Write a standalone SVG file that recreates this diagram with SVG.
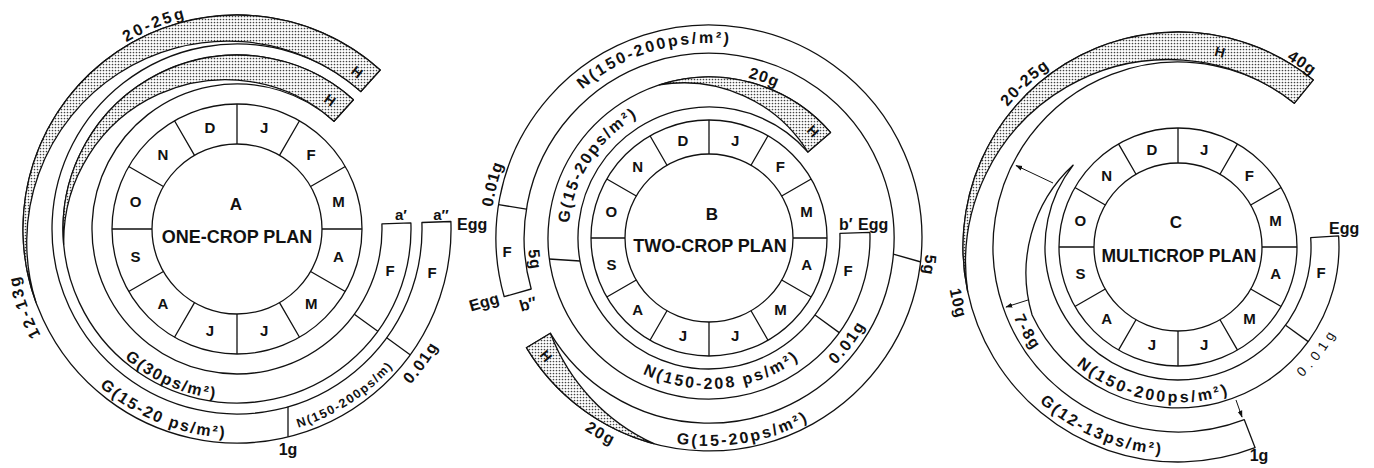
<svg xmlns="http://www.w3.org/2000/svg" width="1374" height="468" viewBox="0 0 1374 468">
<style>
.ln{fill:none;stroke:#111;stroke-width:1.3}
.band{fill:#fff;stroke:#111;stroke-width:1.3;stroke-linejoin:round}
.h{fill:url(#dots);stroke:#111;stroke-width:1.3;stroke-linejoin:round}
.t{font-family:"Liberation Sans",Arial,Helvetica,sans-serif;font-weight:bold;font-size:16px;fill:#111}
.m{font-size:15px;text-anchor:middle;dominant-baseline:central}
.c{text-anchor:middle}
.n{font-weight:normal}
.hh{font-size:14px;text-anchor:middle;dominant-baseline:central}
.s125{font-size:12.5px}
.s13{font-size:13.5px}
.s15{font-size:15px}
.s16{font-size:16px}
.s17{font-size:17px}
.s175{font-size:17.5px}
.s18{font-size:18px}
.ar{fill:none;stroke:#111;stroke-width:1;marker-end:url(#ah)}
</style>
<defs>
<pattern id="dots" width="3" height="3" patternUnits="userSpaceOnUse"><rect width="3" height="3" fill="#fff"/><circle cx="1.5" cy="1.5" r="0.85" fill="#444"/></pattern>
<marker id="ah" viewBox="0 0 10 10" refX="9" refY="5" markerWidth="7" markerHeight="7" orient="auto"><path d="M0,1.5L10,5L0,8.5z" fill="#111"/></marker>
<path id="tA1" d="M83.3,304A171,171 0 0 0 284.1,393.4"/>
<path id="tA2" d="M52.5,327.1A209,209 0 0 0 301.6,427.8"/>
<path id="tA3" d="M211.6,435.4A208,208 0 0 0 435.9,289.8"/>
<path id="tA4" d="M293.4,455.1A233,233 0 0 0 469.4,212.7"/>
<path id="tA5" d="M125.5,422.1A223,223 0 0 1 27.4,152.7"/>
<path id="tA6" d="M45.4,127.1A217,217 0 0 1 304.1,22.6"/>
<path id="tB1" d="M540.1,140.5A195,195 0 0 1 794.5,62.7"/>
<path id="tB2" d="M569.1,255.2A141,141 0 0 1 667.8,103.2"/>
<path id="tB3" d="M603.2,345.7A151,151 0 0 0 833.4,323.5"/>
<path id="tB4" d="M605,418.1A208,208 0 0 0 868.3,371.7"/>
<path id="tB5" d="M749.3,412.4A179,179 0 0 0 887.8,228.6"/>
<path id="tB6" d="M512.6,333.8A218.5,218.5 0 0 1 580.6,61.2"/>
<path id="tB7" d="M649.9,84A165,165 0 0 1 850.4,153"/>
<path id="tB8" d="M495.2,320.1A229,229 0 0 0 752.7,462.8"/>
<path id="tB9" d="M557.2,139.4A181,181 0 0 0 585.6,370.4"/>
<path id="tB10" d="M891,119.8A217,217 0 0 1 857,396.7"/>
<path id="tC1" d="M1050.6,336.2A155.5,155.5 0 0 0 1265,375.9"/>
<path id="tC2" d="M992.7,341.4A208,208 0 0 0 1238.8,445.9"/>
<path id="tC3" d="M1002.6,214.2A178.5,178.5 0 0 0 1115.2,414.1"/>
<path id="tC4" d="M968.5,146.2A232.5,232.5 0 0 0 1042.3,435.8"/>
<path id="tC5" d="M959.2,220.1A220.5,220.5 0 0 1 1166.5,26.8"/>
<path id="tC6" d="M1155.3,31.2A217,217 0 0 1 1386.6,187.2"/>
<path id="tC7" d="M1218.5,422.4A180,180 0 0 0 1357.8,237.6"/>
</defs>
<rect width="1374" height="468" fill="#fff"/>

<g id="planA">
<path class="band" d="M410.9,222.9A174,174 0 1 1 353.4,99.7L334,121.2A145,145 0 1 0 381.9,223.9Z"/>
<path class="h" d="M63.7,244.2A174,174 0 0 1 353.4,99.7L334,121.2A162,162 0 0 0 63.7,244.2Z"/>
<path class="band" d="M450.9,221.5A214,214 0 1 1 380.2,70L360.8,91.5A185,185 0 1 0 421.9,222.5Z"/>
<path class="h" d="M35.9,302.2A214,214 0 0 1 380.2,70L360.8,91.5A201,201 0 0 0 35.9,302.2Z"/>
<path class="ln" d="M354.3,314.2L377.8,331.3M386.7,337.7L410.1,354.8M288,406.8L288,436.8"/>
<circle class="ln" cx="237" cy="229" r="125"/>
<circle class="ln" cx="237" cy="229" r="85"/>
<path class="ln" d="M237,144L237,104M279.5,155.4L299.5,120.7M310.6,186.5L345.3,166.5M322,229L362,229M310.6,271.5L345.3,291.5M279.5,302.6L299.5,337.3M237,314L237,354M194.5,302.6L174.5,337.3M163.4,271.5L128.7,291.5M152,229L112,229M163.4,186.5L128.7,166.5M194.5,155.4L174.5,120.7"/>
<g class="t m">
<text x="264.2" y="127.6">J</text><text x="311.2" y="154.8">F</text><text x="338.4" y="201.8">M</text><text x="338.4" y="256.2">A</text><text x="311.2" y="303.2">M</text><text x="264.2" y="330.4">J</text><text x="209.8" y="330.4">J</text><text x="162.8" y="303.2">A</text><text x="135.6" y="256.2">S</text><text x="135.6" y="201.8">O</text><text x="162.8" y="154.8">N</text><text x="209.8" y="127.6">D</text>
</g>
<text class="t c s17" x="236" y="210">A</text>
<text class="t c s18" x="237" y="243">ONE-CROP PLAN</text>
<text class="t c s15" x="390" y="276">F</text>
<text class="t c s15" x="432" y="278">F</text>
<text class="t c s15" x="401" y="220">a′</text>
<text class="t c s15" x="441" y="220">a″</text>
<text class="t s16" x="457" y="230">Egg</text>
<text class="t c s16" x="288" y="455">1g</text>
<text class="t c" letter-spacing="1.8"><textPath href="#tA1" startOffset="50%">G(30ps/m²)</textPath></text>
<text class="t c" letter-spacing="2"><textPath href="#tA2" startOffset="50%">G(15-20 ps/m²)</textPath></text>
<text class="t c s125" letter-spacing="1.6"><textPath href="#tA3" startOffset="50%">N(150-200ps/m)</textPath></text>
<text class="t c" letter-spacing="1.5"><textPath href="#tA4" startOffset="50%">0.01g</textPath></text>
<text class="t c" letter-spacing="2.5"><textPath href="#tA5" startOffset="50%">12-13g</textPath></text>
<text class="t c" letter-spacing="2.5"><textPath href="#tA6" startOffset="50%">20-25g</textPath></text>
<text class="t hh" transform="translate(357,72) rotate(38)">H</text>
<text class="t hh" transform="translate(330,100) rotate(36)">H</text>
</g>

<g id="planB">
<path class="band" d="M869.9,232.4A161,161 0 1 1 830.5,132.4L807.9,152.1A131,131 0 1 0 839.9,233.4Z"/>
<path class="h" d="M659.3,84.9A161,161 0 0 1 830.5,132.4L807.9,152.1A146,146 0 0 0 659.3,84.9Z"/>
<path class="band" d="M504.2,296.7A213,213 0 1 1 526.4,347.7L550.4,333.3A185,185 0 1 0 531.2,289Z"/>
<path class="h" d="M653.9,443.7A213,213 0 0 1 526.4,347.7L550.4,333.3A199,199 0 0 0 653.9,443.7Z"/>
<path class="ln" d="M815,315L839.2,332.6M580,261L549,259M526.3,209.1L498.6,204.7M893.3,254.1L921,262"/>
<circle class="ln" cx="709" cy="238" r="118"/>
<circle class="ln" cx="709" cy="238" r="84"/>
<path class="ln" d="M709,154L709,120M751,165.3L768,135.8M781.7,196L811.2,179M793,238L827,238M781.7,280L811.2,297M751,310.7L768,340.2M709,322L709,356M667,310.7L650,340.2M636.3,280L606.8,297M625,238L591,238M636.3,196L606.8,179M667,165.3L650,135.8"/>
<g class="t m">
<text x="735.1" y="140.4">J</text><text x="780.4" y="166.6">F</text><text x="806.6" y="211.9">M</text><text x="806.6" y="264.1">A</text><text x="780.4" y="309.4">M</text><text x="735.1" y="335.6">J</text><text x="682.9" y="335.6">J</text><text x="637.6" y="309.4">A</text><text x="611.4" y="264.1">S</text><text x="611.4" y="211.9">O</text><text x="637.6" y="166.6">N</text><text x="682.9" y="140.4">D</text>
</g>
<text class="t c s17" x="712" y="220">B</text>
<text class="t c s18" x="710" y="252">TWO-CROP PLAN</text>
<text class="t c s15" x="848" y="276">F</text>
<text class="t c s15" x="507" y="257">F</text>
<text class="t s16" x="839" y="230">b′</text>
<text class="t s16" x="858" y="230">Egg</text>
<text class="t hh s16" transform="translate(484,302) rotate(-16)">Egg</text>
<text class="t hh s16" transform="translate(528,304) rotate(-16)">b″</text>
<text class="t c" letter-spacing="2.4"><textPath href="#tB1" startOffset="50%">N(150-200ps/m²)</textPath></text>
<text class="t c" letter-spacing="2"><textPath href="#tB2" startOffset="50%">G(15-20ps/m²)</textPath></text>
<text class="t c" letter-spacing="2.4"><textPath href="#tB3" startOffset="50%">N(150-208 ps/m²)</textPath></text>
<text class="t c" letter-spacing="2.4"><textPath href="#tB4" startOffset="50%">G(15-20ps/m²)</textPath></text>
<text class="t c" letter-spacing="2"><textPath href="#tB5" startOffset="50%">0.01g</textPath></text>
<text class="t c" letter-spacing="0.8"><textPath href="#tB6" startOffset="50%">0.01g</textPath></text>
<text class="t c" letter-spacing="1"><textPath href="#tB7" startOffset="50%">20g</textPath></text>
<text class="t c" letter-spacing="1.5"><textPath href="#tB8" startOffset="50%">20g</textPath></text>
<text class="t c" letter-spacing="1"><textPath href="#tB9" startOffset="50%">5g</textPath></text>
<text class="t c" letter-spacing="1"><textPath href="#tB10" startOffset="50%">5g</textPath></text>
<text class="t hh" transform="translate(813,131) rotate(45)">H</text>
<text class="t hh" transform="translate(546,356) rotate(50)">H</text>
</g>

<g id="planC">
<path class="band" d="M1338.6,235.8A161,161 0 0 1 1032.1,315A147,147 0 0 1 1073.2,165.1A133,133 0 1 0 1310.7,237.7Z"/>
<path class="band" d="M1255.1,447.7A215,215 0 1 1 1313.3,79.9L1294.4,103.2A185,185 0 1 0 1244.3,419.7Z"/>
<path class="h" d="M967.7,291.7A215,215 0 0 1 1313.3,79.9L1294.4,103.2A203,203 0 0 0 967.7,291.7Z"/>
<path class="ln" d="M1285.6,325.2L1308.2,341.6"/>
<circle class="ln" cx="1178" cy="247" r="119"/>
<circle class="ln" cx="1178" cy="247" r="84"/>
<path class="ln" d="M1178,163L1178,128M1220,174.3L1237.5,143.9M1250.7,205L1281.1,187.5M1262,247L1297,247M1250.7,289L1281.1,306.5M1220,319.7L1237.5,350.1M1178,331L1178,366M1136,319.7L1118.5,350.1M1105.3,289L1074.9,306.5M1094,247L1059,247M1105.3,205L1074.9,187.5M1136,174.3L1118.5,143.9"/>
<g class="t m">
<text x="1204.1" y="149.4">J</text><text x="1249.4" y="175.6">F</text><text x="1275.6" y="220.9">M</text><text x="1275.6" y="273.1">A</text><text x="1249.4" y="318.4">M</text><text x="1204.1" y="344.6">J</text><text x="1151.9" y="344.6">J</text><text x="1106.6" y="318.4">A</text><text x="1080.4" y="273.1">S</text><text x="1080.4" y="220.9">O</text><text x="1106.6" y="175.6">N</text><text x="1151.9" y="149.4">D</text>
</g>
<text class="t c s17" x="1176" y="228">C</text>
<text class="t c s175" x="1179" y="262">MULTICROP PLAN</text>
<text class="t c s15" x="1321" y="278">F</text>
<text class="t s16" x="1329" y="234">Egg</text>
<text class="t c s16" x="1259" y="461">1g</text>
<text class="t c" letter-spacing="2.7"><textPath href="#tC1" startOffset="50%">N(150-200ps/m²)</textPath></text>
<text class="t c" letter-spacing="2.3"><textPath href="#tC2" startOffset="50%">G(12-13ps/m²)</textPath></text>
<text class="t c" letter-spacing="1.5"><textPath href="#tC3" startOffset="50%">7-8g</textPath></text>
<text class="t c" letter-spacing="1"><textPath href="#tC4" startOffset="50%">10g</textPath></text>
<text class="t c" letter-spacing="1.3"><textPath href="#tC5" startOffset="50%">20-25g</textPath></text>
<text class="t c" letter-spacing="1"><textPath href="#tC6" startOffset="50%">40g</textPath></text>
<text class="t c n s13" letter-spacing="5"><textPath href="#tC7" startOffset="50%">0.01g</textPath></text>
<text class="t hh" transform="translate(1220,52) rotate(15)">H</text>
</g>

<g id="connectors">
<path class="ar" d="M1053,183L1016,165.5"/>
<path class="ar" d="M1028,300L1006,307"/>
<path class="ar" d="M1236,400L1242,417"/>
</g>
</svg>
